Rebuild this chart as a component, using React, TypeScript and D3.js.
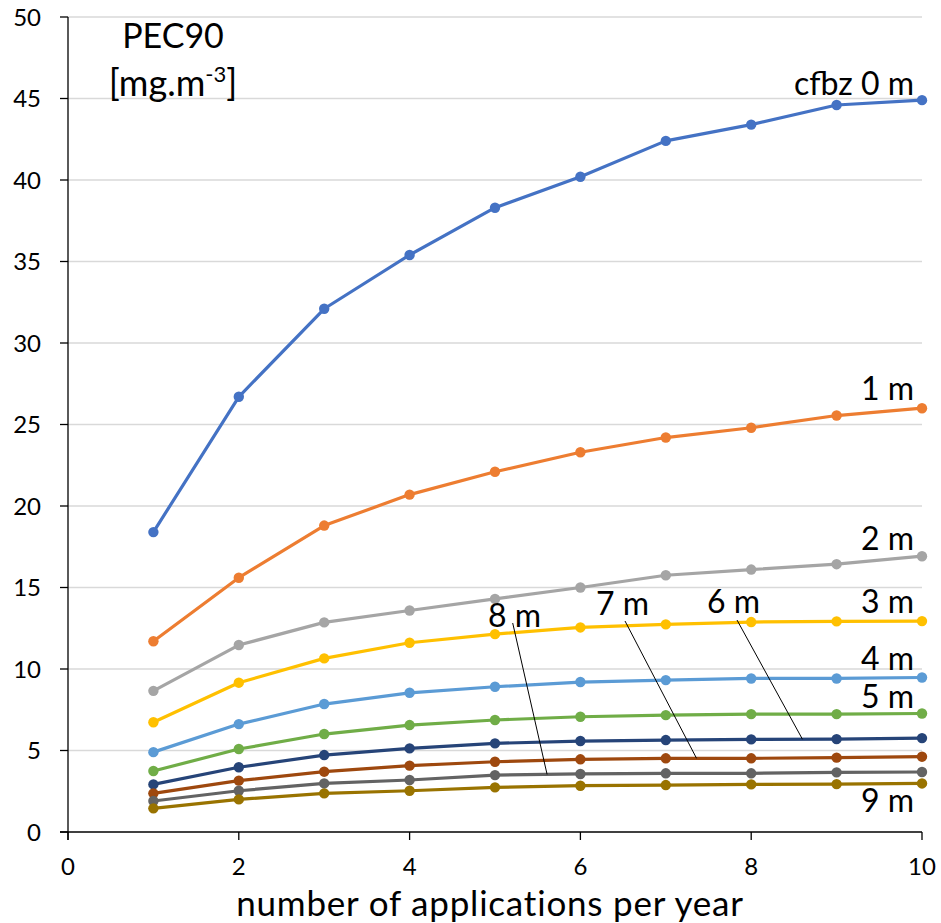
import React from "react";
import * as d3 from "d3";

// Applications per year (x)
const applications = [1, 2, 3, 4, 5, 6, 7, 8, 9, 10];

// PEC90 by distance from the field edge (buffer zone width)
const seriesNames = ["cfbz 0 m", "1 m", "2 m", "3 m", "4 m", "5 m", "6 m", "7 m", "8 m", "9 m"];
const pec0m = [18.4, 26.7, 32.1, 35.4, 38.3, 40.2, 42.4, 43.4, 44.6, 44.9];
const pec1m = [11.7, 15.6, 18.8, 20.7, 22.1, 23.3, 24.2, 24.8, 25.55, 26.0];
const pec2m = [8.66, 11.47, 12.86, 13.59, 14.3, 15.0, 15.75, 16.1, 16.43, 16.92];
const pec3m = [6.73, 9.16, 10.65, 11.61, 12.14, 12.55, 12.74, 12.88, 12.92, 12.94];
const pec4m = [4.9, 6.62, 7.85, 8.54, 8.91, 9.2, 9.32, 9.42, 9.42, 9.48];
const pec5m = [3.74, 5.09, 6.01, 6.56, 6.87, 7.07, 7.17, 7.23, 7.23, 7.27];
const pec6m = [2.92, 3.97, 4.72, 5.13, 5.44, 5.58, 5.64, 5.68, 5.7, 5.76];
const pec7m = [2.37, 3.15, 3.7, 4.07, 4.31, 4.46, 4.52, 4.52, 4.56, 4.62];
const pec8m = [1.9, 2.53, 2.98, 3.19, 3.49, 3.56, 3.6, 3.6, 3.66, 3.68];
const pec9m = [1.45, 2.0, 2.37, 2.53, 2.74, 2.84, 2.88, 2.92, 2.94, 2.98];

const allSeries = [pec0m, pec1m, pec2m, pec3m, pec4m, pec5m, pec6m, pec7m, pec8m, pec9m];
const colors = [
  "#4472C4", "#ED7D31", "#A5A5A5", "#FFC000", "#5B9BD5",
  "#70AD47", "#264478", "#9E480E", "#636363", "#997300",
];

const yTicks = [0, 5, 10, 15, 20, 25, 30, 35, 40, 45, 50];
const xTicks = [0, 2, 4, 6, 8, 10];

const W = 941;
const H = 923;
const FONT = "Lato, 'Open Sans', sans-serif";

const x = d3.scaleLinear().domain([0, 10]).range([68, 922]);
const y = d3.scaleLinear().domain([0, 50]).range([832, 17]);

const line = d3
  .line<number>()
  .x((_, i) => x(applications[i]))
  .y((v) => y(v));

// value of a series at a fractional x (linear between points)
function valueAt(series: number[], xv: number) {
  return d3.scaleLinear().domain(applications).range(series)(xv);
}

// End labels at the right edge (series index, baseline in pixels)
const endLabels = [
  { idx: 0, text: "cfbz 0 m", top: 95 },
  { idx: 1, text: "1 m", top: 400 },
  { idx: 2, text: "2 m", top: 550 },
  { idx: 3, text: "3 m", top: 613 },
  { idx: 4, text: "4 m", top: 670 },
  { idx: 5, text: "5 m", top: 708 },
  { idx: 9, text: "9 m", top: 812 },
];

// Labels with leader lines pointing to the series
const leaderLabels = [
  { idx: 8, text: "8 m", lx: 488, ly: 627, sx: 512.7, sy: 623, atX: 5.61 },
  { idx: 7, text: "7 m", lx: 596, ly: 615, sx: 625, sy: 621, atX: 7.36 },
  { idx: 6, text: "6 m", lx: 707, ly: 613, sx: 737, sy: 620, atX: 8.6 },
];

const LABEL_SIZE = 32;
const TICK_SIZE = 24;

export default function App() {
  return (
    <svg
      width={W}
      height={H}
      style={{ position: "absolute", left: 0, top: 0, background: "#fff" }}
      fontFamily={FONT}
    >
      <rect width={W} height={H} fill="#fff" />
      {/* horizontal gridlines */}
      {yTicks.filter((t) => t > 0).map((t) => (
        <line key={t} x1={x(0)} x2={x(10)} y1={y(t)} y2={y(t)} stroke="#d9d9d9" strokeWidth={1.3} />
      ))}

      {/* axes */}
      <line x1={x(0)} x2={x(0)} y1={y(50)} y2={y(0) + 8} stroke="#000" strokeWidth={1.3} />
      <line x1={x(0) - 8} x2={x(10)} y1={y(0)} y2={y(0)} stroke="#000" strokeWidth={1.3} />
      {yTicks.map((t) => (
        <g key={t}>
          <line x1={x(0) - 8} x2={x(0)} y1={y(t)} y2={y(t)} stroke="#000" strokeWidth={1.3} />
          <text x={41} y={y(t)} dy="0.36em" textAnchor="end" fontSize={TICK_SIZE} fill="#000">
            {t}
          </text>
        </g>
      ))}
      {xTicks.map((t) => (
        <g key={t}>
          <line x1={x(t)} x2={x(t)} y1={y(0)} y2={y(0) + 8} stroke="#000" strokeWidth={1.3} />
          <text x={x(t)} y={875} textAnchor="middle" fontSize={TICK_SIZE} fill="#000">
            {t}
          </text>
        </g>
      ))}

      {/* axis titles */}
      <text x={490} y={915.5} textAnchor="middle" fontSize={35} letterSpacing={0.8} fill="#000">
        number of applications per year
      </text>
      <text x={173} y={48} textAnchor="middle" fontSize={34} fill="#000">
        PEC90
      </text>
      <text x={173} y={96} textAnchor="middle" fontSize={36} fill="#000">
        [mg.m
        <tspan fontSize={22} dy={-14}>-3</tspan>
        <tspan dy={14}>]</tspan>
      </text>

      {/* series */}
      {allSeries.map((s, k) => (
        <g key={seriesNames[k]}>
          <path d={line(s) ?? ""} fill="none" stroke={colors[k]} strokeWidth={3.2} strokeLinejoin="round" />
          {s.map((v, i) => (
            <circle key={i} cx={x(applications[i])} cy={y(v)} r={5.2} fill={colors[k]} />
          ))}
        </g>
      ))}

      {/* end-of-line labels */}
      {endLabels.map((l) => (
        <text key={l.text} x={914} y={l.top} textAnchor="end" fontSize={LABEL_SIZE} fill="#000">
          {l.text}
        </text>
      ))}

      {/* leader-line labels */}
      {leaderLabels.map((l) => (
        <g key={l.text}>
          <line
            x1={l.sx}
            y1={l.sy}
            x2={x(l.atX)}
            y2={y(valueAt(allSeries[l.idx], l.atX))}
            stroke="#000"
            strokeWidth={1}
          />
          <text x={l.lx} y={l.ly} textAnchor="start" fontSize={LABEL_SIZE} fill="#000">
            {l.text}
          </text>
        </g>
      ))}
    </svg>
  );
}
